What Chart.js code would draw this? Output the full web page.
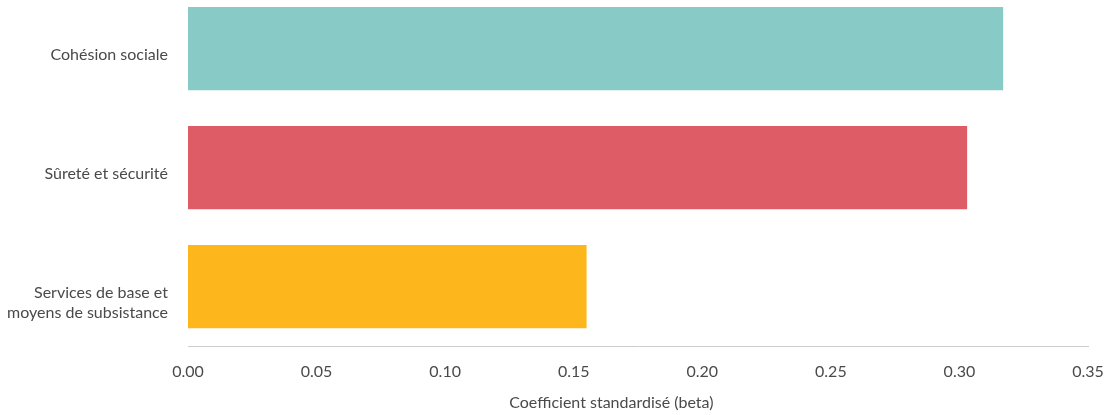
<!DOCTYPE html>
<html>
<head>
<meta charset="utf-8">
<script src="https://cdn.jsdelivr.net/npm/chart.js@4.4.0/dist/chart.umd.min.js"></script>
<style>
  html, body { margin: 0; padding: 0; background: #fff; overflow: hidden; }
  #wrap { position: absolute; left: 0; top: -62px; width: 1109px; height: 477px; }
</style>
</head>
<body>
<div id="wrap"><canvas id="betaChart"></canvas></div>
<script>
const categories = [
  "Cohésion sociale",
  "Sûreté et sécurité",
  ["", "Services de base et", "moyens de subsistance"],
];
const betaValues = [0.317, 0.303, 0.155];
const barColors = ["#88cac5", "#de5c65", "#fdb71d"];
const xTicks = [0, 0.05, 0.1, 0.15, 0.2, 0.25, 0.3, 0.35];
const xTitle = "Coefficient standardisé (beta)";

const fontFamily = "Lato, 'Open Sans', sans-serif";
const textColor = "#4a4a4a";

document.addEventListener("DOMContentLoaded", function () {
  const ctx = document.getElementById("betaChart");

  new Chart(ctx, {
    type: "bar",
    data: {
      labels: categories,
      datasets: [
        {
          data: betaValues,
          backgroundColor: barColors,
          borderWidth: 0,
          categoryPercentage: 0.7,
          barPercentage: 1,
        },
      ],
    },
    options: {
      indexAxis: "y",
      responsive: true,
      maintainAspectRatio: false,
      animation: false,
      layout: {
        padding: { left: 0, right: 21, top: 0, bottom: 0 },
      },
      plugins: {
        legend: { display: false },
        tooltip: { enabled: false },
      },
      scales: {
        x: {
          min: 0,
          max: 0.35,
          afterBuildTicks: function (scale) {
            scale.ticks = xTicks.map((v) => ({ value: v }));
          },
          grid: { display: false, drawTicks: false },
          border: { display: true, color: "#cccccc", width: 1 },
          ticks: {
            padding: 16,
            color: textColor,
            font: { family: fontFamily, size: 16 },
            callback: (v) => Number(v).toFixed(2),
          },
          title: {
            display: true,
            text: xTitle + "             ",
            color: textColor,
            font: { family: fontFamily, size: 16 },
            padding: { top: 6, bottom: 3 },
          },
          afterFit: function (scale) {
            scale.height = 69;
            scale.paddingLeft = 0;
            scale.paddingRight = 0;
          },
        },
        y: {
          grid: { display: false, drawTicks: false },
          border: { display: false },
          ticks: {
            padding: 20,
            labelOffset: 6,
            color: textColor,
            font: { family: fontFamily, size: 16, lineHeight: 1.3 },
          },
          afterFit: function (scale) {
            scale.width = 188;
          },
        },
      },
    },
  });
});
</script>
</body>
</html>
